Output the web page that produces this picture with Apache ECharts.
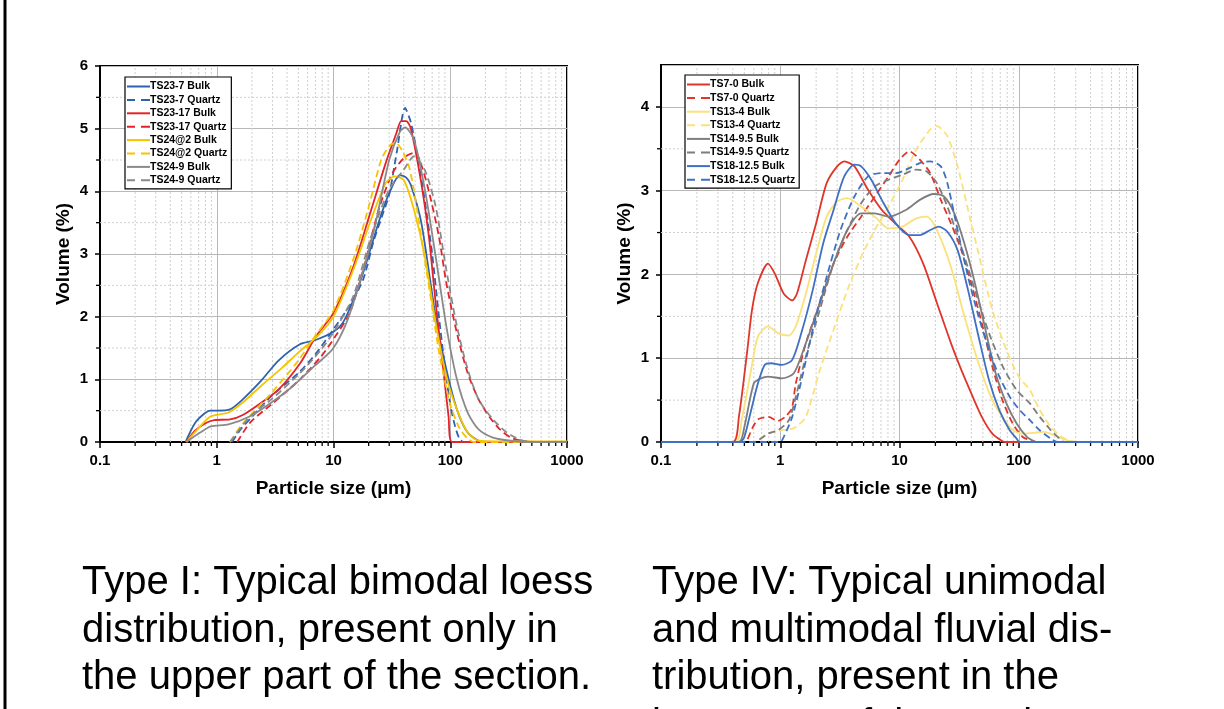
<!DOCTYPE html>
<html><head><meta charset="utf-8">
<script src="https://cdn.jsdelivr.net/npm/echarts@6.0.0/dist/echarts.min.js"></script>
<style>html,body{margin:0;padding:0;background:#fff;}#c{width:1224px;height:709px;}</style>
</head><body><div id="c"></div>
<script>
// ---------- data (particle size µm, volume %) ----------
const minorX = [0.2,0.3,0.4,0.5,0.6,0.7,0.8,0.9,2,3,4,5,6,7,8,9,20,30,40,50,60,70,80,90,200,300,400,500,600,700,800,900];
const minorYLeft = [0.5,1.5,2.5,3.5,4.5,5.5];
const minorYRight = [0.5,1.5,2.5,3.5];

// Left panel (Type I)
const ts23_7_bulk = [[0.54,0],[0.65,0.3],[0.78,0.45],[0.88,0.5],[1.0,0.5],[1.3,0.52],[1.67,0.68],[2.38,0.97],[3.38,1.3],[5.16,1.56],[6.84,1.62],[10,1.76],[12,1.9],[14.8,2.27],[18.3,2.75],[24.3,3.5],[30,3.97],[37,4.26],[42,4.22],[46,4.1],[56.5,3.5],[75,2.0],[92.5,1.16],[114,0.52],[141,0.15],[175,0.02],[200,0],[1000,0]];
const ts23_7_quartz = [[1.35,0],[1.6,0.2],[2,0.4],[3,0.75],[5,1.1],[7,1.4],[10,1.8],[14,2.2],[18,2.6],[22,3.2],[26,3.6],[30,3.95],[35,4.65],[41,5.33],[46,5.1],[52,4.6],[60,3.9],[70,3.0],[80,2.0],[90,1.2],[100,0.6],[110,0.25],[120,0.05],[130,0],[1000,0]];
const ts23_17_bulk = [[0.55,0],[0.65,0.18],[0.8,0.3],[0.95,0.35],[1.3,0.36],[1.67,0.43],[2.5,0.65],[3.4,0.84],[5.2,1.26],[7.1,1.69],[10,2.06],[14.8,2.8],[21,3.7],[28,4.45],[34.6,4.93],[38,5.12],[42,5.12],[46,5.0],[56.5,4.13],[65.6,3.28],[75,2.22],[86.5,1.21],[96.7,0.41],[103.5,0],[1000,0]];
const ts23_17_quartz = [[1.5,0],[1.93,0.31],[2.94,0.6],[5.16,1.0],[7.87,1.37],[10.4,1.69],[13.8,2.06],[18.3,2.8],[24.3,3.7],[32,4.29],[41,4.55],[50,4.62],[57,4.4],[65.6,4.0],[80,3.28],[92.5,2.54],[114,1.74],[141,1.1],[175,0.68],[215,0.41],[266,0.2],[330,0.07],[406,0.02],[500,0],[1000,0]];
const ts24a2_bulk = [[0.55,0],[0.72,0.25],[0.89,0.41],[1.26,0.47],[1.67,0.63],[2.38,0.89],[3.6,1.18],[5.16,1.45],[7.3,1.69],[10,2.0],[14.8,2.75],[21,3.55],[28,4.13],[33.4,4.24],[40,4.18],[49,3.7],[60.6,2.96],[75,1.9],[92.5,1.05],[114,0.52],[141,0.15],[175,0.02],[250,0.01],[1000,0.01]];
const ts24a2_quartz = [[1.3,0],[1.6,0.25],[2,0.45],[3,0.8],[5,1.3],[7,1.7],[10,2.1],[15,2.95],[20,3.75],[25.6,4.5],[30,4.72],[34,4.78],[39,4.64],[44.6,4.38],[50,3.9],[60,2.95],[70,2.15],[80,1.45],[100,0.6],[120,0.22],[140,0.06],[160,0],[1000,0]];
const ts24_9_bulk = [[0.55,0],[0.72,0.15],[0.89,0.25],[1.26,0.28],[1.93,0.41],[2.94,0.63],[4.48,0.89],[6.84,1.21],[9.8,1.48],[12.9,1.9],[17.1,2.6],[22.6,3.44],[30,4.5],[37,4.95],[41,5.02],[49,4.82],[60.6,4.03],[75,2.96],[92.5,1.85],[114,1.0],[141,0.47],[175,0.2],[232,0.07],[330,0.02],[500,0],[1000,0]];
const ts24_9_quartz = [[1.3,0],[1.93,0.41],[2.94,0.68],[5.16,1.1],[7.87,1.48],[10.4,1.8],[14.8,2.33],[21,3.28],[30,4.03],[39.8,4.34],[49,4.56],[60.6,4.34],[75,3.76],[92.5,2.75],[114,1.85],[141,1.16],[175,0.68],[232,0.36],[306,0.15],[406,0.03],[500,0],[1000,0]];

// Right panel (Type IV)
const ts7_0_bulk = [[0.1,0],[0.4,0],[0.45,0.3],[0.53,1.1],[0.58,1.58],[0.65,1.9],[0.79,2.13],[0.9,2.01],[1.07,1.77],[1.26,1.69],[1.38,1.77],[1.64,2.17],[2.0,2.61],[2.45,3.09],[3.0,3.29],[3.44,3.35],[4.19,3.29],[5.45,3.01],[7.1,2.77],[9.2,2.61],[12.1,2.45],[15.8,2.13],[20.6,1.66],[27,1.18],[33,0.86],[40,0.58],[49,0.3],[60,0.1],[73,0.01],[78,0],[1000,0]];
const ts7_0_quartz = [[0.1,0],[0.5,0],[0.58,0.16],[0.65,0.27],[0.8,0.3],[0.95,0.25],[1.1,0.3],[1.25,0.4],[1.35,0.7],[1.64,1.18],[2.15,1.66],[2.8,2.13],[3.65,2.45],[4.77,2.69],[6.2,2.93],[8.1,3.17],[10,3.37],[12.1,3.47],[14.8,3.37],[18.1,3.21],[22.2,2.89],[27,2.61],[33,2.29],[40,1.89],[49,1.42],[60,0.9],[73,0.5],[89,0.22],[108,0.06],[133,0.01],[140,0],[1000,0]];
const ts13_4_bulk = [[0.1,0],[0.42,0],[0.48,0.3],[0.57,0.86],[0.65,1.26],[0.79,1.38],[0.96,1.3],[1.18,1.27],[1.35,1.38],[1.64,1.77],[2.0,2.25],[2.45,2.69],[3.0,2.87],[3.65,2.91],[4.77,2.81],[6.2,2.69],[8.1,2.55],[10.6,2.57],[13.8,2.67],[16.9,2.69],[20.6,2.53],[27,2.09],[35,1.5],[46,0.94],[60,0.5],[73,0.3],[89,0.14],[108,0.1],[133,0.11],[162,0.12],[200,0.08],[242,0.03],[296,0],[1000,0]];
const ts13_4_quartz = [[0.1,0],[0.6,0],[0.79,0.1],[1.0,0.14],[1.2,0.15],[1.35,0.18],[1.64,0.3],[2.15,0.86],[2.8,1.34],[3.65,1.81],[4.77,2.21],[6.2,2.53],[8.1,2.81],[10.6,3.13],[13.8,3.49],[18.1,3.73],[20.6,3.77],[25.2,3.65],[30.7,3.29],[37.6,2.77],[46,2.25],[60,1.58],[78.8,1.1],[100,0.78],[124,0.62],[150,0.38],[186,0.18],[229,0.06],[280,0.01],[320,0],[1000,0]];
const ts14_95_bulk = [[0.1,0],[0.45,0],[0.5,0.18],[0.6,0.7],[0.69,0.76],[0.79,0.78],[1.03,0.76],[1.3,0.82],[1.64,1.18],[2.15,1.66],[2.8,2.13],[3.65,2.53],[4.77,2.73],[6.2,2.73],[8.1,2.69],[11.3,2.77],[14.8,2.89],[19.3,2.96],[23.6,2.93],[28.8,2.73],[35,2.37],[43,1.89],[52.6,1.34],[64,0.82],[78.8,0.46],[96,0.22],[117,0.06],[133,0.01],[140,0],[1000,0]];
const ts14_95_quartz = [[0.1,0],[0.6,0],[0.79,0.1],[0.96,0.14],[1.18,0.26],[1.35,0.54],[1.64,1.02],[2.15,1.58],[2.8,2.13],[3.65,2.53],[4.77,2.85],[6.2,3.05],[8.1,3.13],[10.6,3.19],[13.8,3.25],[16.9,3.23],[20.6,3.09],[25.2,2.81],[33,2.33],[43,1.81],[56.3,1.3],[73.5,0.9],[96,0.62],[124,0.46],[150,0.3],[186,0.14],[220,0.04],[242,0],[1000,0]];
const ts18_125_bulk = [[0.1,0],[0.46,0],[0.5,0.06],[0.57,0.38],[0.65,0.7],[0.74,0.92],[0.84,0.94],[1.03,0.92],[1.26,0.98],[1.53,1.34],[1.87,1.81],[2.29,2.37],[2.8,2.77],[3.44,3.17],[4.19,3.31],[4.77,3.29],[5.8,3.13],[7.1,2.89],[9.3,2.61],[12.1,2.47],[14.8,2.47],[18.1,2.53],[21.3,2.57],[25.2,2.51],[30.7,2.29],[37.6,1.81],[46,1.26],[56.3,0.74],[68.7,0.38],[84,0.14],[96,0.04],[102,0],[1000,0]];
const ts18_125_quartz = [[0.1,0],[1.0,0],[1.07,0.06],[1.26,0.3],[1.53,0.78],[1.87,1.34],[2.45,1.97],[3.2,2.53],[4.19,2.93],[5.45,3.17],[7.1,3.21],[9.3,3.21],[12.1,3.27],[14.8,3.33],[18.1,3.35],[22.2,3.29],[25.2,3.09],[30.7,2.53],[37.6,1.97],[46,1.5],[56.3,1.1],[68.7,0.78],[84,0.54],[102,0.38],[124,0.26],[150,0.14],[186,0.04],[214,0],[1000,0]];

const leftNames = ['TS23-7 Bulk','TS23-7 Quartz','TS23-17 Bulk','TS23-17 Quartz','TS24@2 Bulk','TS24@2 Quartz','TS24-9 Bulk','TS24-9 Quartz'];
const rightNames = ['TS7-0 Bulk','TS7-0 Quartz','TS13-4 Bulk','TS13-4 Quartz','TS14-9.5 Bulk','TS14-9.5 Quartz','TS18-12.5 Bulk','TS18-12.5 Quartz'];
const leftData = [ts23_7_bulk, ts23_7_quartz, ts23_17_bulk, ts23_17_quartz, ts24a2_bulk, ts24a2_quartz, ts24_9_bulk, ts24_9_quartz];
const rightData = [ts7_0_bulk, ts7_0_quartz, ts13_4_bulk, ts13_4_quartz, ts14_95_bulk, ts14_95_quartz, ts18_125_bulk, ts18_125_quartz];
const leftColors = ['#2f62ad','#2f62ad','#e3232b','#e3232b','#f5c400','#f5c400','#8a8a8a','#8a8a8a'];
const rightColors = ['#e0352b','#e0352b','#fbe17a','#fbe17a','#7d7d7d','#7d7d7d','#3f70c2','#3f70c2'];

const textLeft = ['Type I: Typical bimodal loess','distribution, present only in','the upper part of the section.'];
const textRight = ['Type IV: Typical unimodal','and multimodal fluvial dis-','tribution, present in the','lower part of the section.'];

// ---------- chart ----------
const FONT = '"Liberation Sans", Arial, Helvetica, sans-serif';
const ICON_SOLID = 'path://M0,0H23V2H0Z';
const ICON_DASH = 'path://M0,0H8V2H0Z M14,0H23V2H14Z';
const chart = echarts.init(document.getElementById('c'), null, {renderer: 'canvas'});

function xAxisCfg(gi){
  return {type:'log', logBase:10, min:0.1, max:1000, gridIndex:gi,
    name:'Particle size (µm)', nameLocation:'middle', nameGap:37,
    nameTextStyle:{fontFamily:FONT, fontWeight:'bold', fontSize:19, color:'#000'},
    axisLine:{show:true, onZero:false, lineStyle:{color:'#000', width:2}},
    axisTick:{show:true, inside:false, length:6, lineStyle:{color:'#000', width:1.5}},
    axisLabel:{fontFamily:FONT, fontWeight:'bold', fontSize:15, color:'#000', margin:11,
      formatter:function(v){return String(+v.toPrecision(3));}},
    splitLine:{show:true, lineStyle:{color:'#b8b8b8', width:1}},
    minorTick:{show:false}, minorSplitLine:{show:false}};
}
function yAxisCfg(gi, max){
  return {type:'value', min:0, max:max, interval:1, gridIndex:gi,
    name:'Volume (%)', nameLocation:'middle', nameGap:27, nameRotate:90,
    nameTextStyle:{fontFamily:FONT, fontWeight:'bold', fontSize:19, color:'#000'},
    axisLine:{show:true, onZero:false, lineStyle:{color:'#000', width:2}},
    axisTick:{show:true, inside:false, length:5, lineStyle:{color:'#000', width:1.5}},
    axisLabel:{fontFamily:FONT, fontWeight:'bold', fontSize:15, color:'#000', margin:12, showMaxLabel: max === 6},
    splitLine:{show:true, lineStyle:{color:'#b8b8b8', width:1}}};
}

function minorSeries(gi, xs, ys, yMax){
  const items = xs.map(v => [v, 0, 0]).concat(ys.map(v => [1, v, 1]));
  return {type:'custom', xAxisIndex:gi, yAxisIndex:gi, z:1, silent:true, clip:false,
    encode:{x:0, y:1}, data: items,
    renderItem: function(params, api){
      const kind = api.value(2);
      if (kind === 0) {
        const v = api.value(0);
        const b = api.coord([v, 0]), t = api.coord([v, yMax]);
        return {type:'group', children:[
          {type:'line', shape:{x1:b[0], y1:b[1], x2:t[0], y2:t[1]}, style:{stroke:'#cfcfcf', lineWidth:1, lineDash:[2,2]}},
          {type:'line', shape:{x1:b[0], y1:b[1]+1, x2:b[0], y2:b[1]+4}, style:{stroke:'#000', lineWidth:1.3}}
        ]};
      } else {
        const v = api.value(1);
        const l = api.coord([0.1, v]), r = api.coord([1000, v]);
        return {type:'group', children:[
          {type:'line', shape:{x1:l[0], y1:l[1], x2:r[0], y2:r[1]}, style:{stroke:'#cfcfcf', lineWidth:1, lineDash:[2,2]}},
          {type:'line', shape:{x1:l[0]-1, y1:l[1], x2:l[0]-4, y2:l[1]}, style:{stroke:'#000', lineWidth:1.3}}
        ]};
      }
    }};
}

function lineSeries(names, datas, colors, gi){
  return names.map((n, i) => ({
    type:'line', name:n, xAxisIndex:gi, yAxisIndex:gi, data:datas[i],
    symbol:'none', showSymbol:false, smooth:0.25, z:3, clip:true,
    lineStyle:{color:colors[i], width:1.8, type: (i % 2 === 1) ? [7,4] : 'solid'},
    itemStyle:{color:colors[i]}, emphasis:{disabled:true}
  }));
}

function legendCfg(names, left, top, gap){
  return {data:names.map((n, i) => ({name:n, icon: (i % 2 === 1) ? ICON_DASH : ICON_SOLID})),
    orient:'vertical', left:left, top:top,
    itemWidth:23, itemHeight:2, itemGap:gap,
    padding:[4,4,3,2], borderColor:'#000', borderWidth:1.2, backgroundColor:'#fff',
    selectedMode:false,
    textStyle:{fontFamily:FONT, fontWeight:'bold', fontSize:10.5, color:'#000', lineHeight:11, padding:[0,0,0,-5]}};
}

const graphics = [
  {type:'rect', shape:{x:3.5, y:0, width:3, height:709}, style:{fill:'#000'}, z:10}
];
textLeft.forEach((t, i) => graphics.push({type:'text', left:82, top:563 + i*47.5, z:10,
  style:{text:t, font:'40px ' + FONT, fill:'#000'}}));
textRight.forEach((t, i) => graphics.push({type:'text', left:652, top:563 + i*47.5, z:10,
  style:{text:t, font:'40px ' + FONT, fill:'#000'}}));

const option = {
  backgroundColor:'#fff',
  animation:false,
  grid:[
    {left:100, top:66, width:467, height:376, show:true, borderColor:'#000', borderWidth:2, backgroundColor:'transparent'},
    {left:661, top:65, width:477, height:377, show:true, borderColor:'#000', borderWidth:2, backgroundColor:'transparent'}
  ],
  xAxis:[xAxisCfg(0), xAxisCfg(1)],
  yAxis:[yAxisCfg(0, 6), yAxisCfg(1, 4.5)],
  legend:[legendCfg(leftNames, 125, 77, 2.4), legendCfg(rightNames, 685, 75, 2.6)],
  series:[minorSeries(0, minorX, minorYLeft, 6), minorSeries(1, minorX, minorYRight, 4.5)]
    .concat(lineSeries(leftNames, leftData, leftColors, 0))
    .concat(lineSeries(rightNames, rightData, rightColors, 1)),
  graphic: graphics
};
chart.setOption(option);
</script>
</body></html>
